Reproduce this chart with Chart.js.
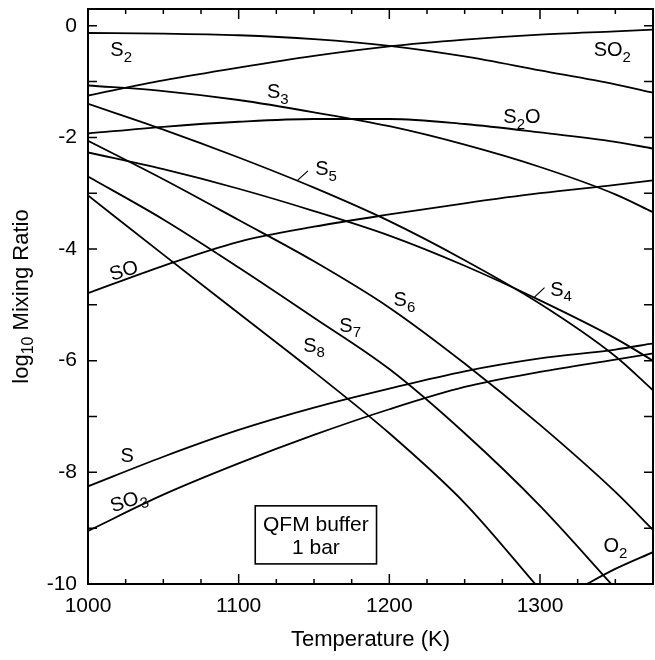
<!DOCTYPE html>
<html>
<head>
<meta charset="utf-8">
<script src="https://cdn.jsdelivr.net/npm/chart.js@4.4.0/dist/chart.umd.min.js"></script>
<style>
  html, body { margin: 0; padding: 0; background: #fff; }
  canvas { display: block; }
</style>
</head>
<body>
<canvas id="chart" width="655" height="660"></canvas>
<script>
'use strict';

// temperature grid (K) shared by most species
const temps = [1000, 1050, 1100, 1150, 1200, 1250, 1300, 1350, 1375];

// log10 mixing ratio
const S2   = [-0.13, -0.14, -0.17, -0.24, -0.36, -0.55, -0.80, -1.05, -1.20];
const SO2  = [-1.25, -0.98, -0.75, -0.54, -0.37, -0.25, -0.16, -0.10, -0.07];
const S3   = [-1.07, -1.17, -1.33, -1.55, -1.80, -2.13, -2.53, -3.02, -3.34];
const S2O  = [-1.93, -1.81, -1.72, -1.67, -1.67, -1.76, -1.91, -2.08, -2.20];
const S4   = [-2.27, -2.57, -2.92, -3.32, -3.76, -4.30, -4.92, -5.60, -6.00];
const S5   = [-1.40, -1.86, -2.36, -2.90, -3.50, -4.20, -4.98, -5.92, -6.53];
const S6   = [-2.06, -2.75, -3.48, -4.22, -5.05, -6.05, -7.15, -8.35, -9.03];
const SO   = [-4.79, -4.30, -3.87, -3.60, -3.38, -3.18, -3.00, -2.85, -2.77];
const S    = [-8.25, -7.72, -7.24, -6.84, -6.50, -6.19, -5.96, -5.80, -5.69];
const SO3  = [-9.05, -8.40, -7.84, -7.33, -6.87, -6.47, -6.20, -5.98, -5.87];

// species that leave the plot early
const tempsS7 = [1000, 1050, 1100, 1150, 1200, 1250, 1300, 1350];
const S7      = [-2.70, -3.47, -4.33, -5.23, -6.15, -7.30, -8.60, -10.08];
const tempsS8 = [1000, 1050, 1100, 1150, 1200, 1250, 1300];
const S8      = [-3.04, -4.10, -5.15, -6.20, -7.30, -8.55, -10.10];
const tempsO2 = [1325, 1350, 1375];
const O2      = [-10.09, -9.73, -9.43];

// axis setup
const xTicks = [1000, 1100, 1200, 1300];
const yTicks = [-10, -8, -6, -4, -2, 0];

// curve labels: [T, log value, main text, subscript, tail, rotation deg]
const curveLabels = [
  [1022, -0.45, 'S', '2', '', 0],
  [1348, -0.45, 'SO', '2', '', 0],
  [1126, -1.20, 'S', '3', '', 0],
  [1288, -1.65, 'S', '2', 'O', 0],
  [1158, -2.58, 'S', '5', '', 0],
  [1314, -4.74, 'S', '4', '', 0],
  [1210, -4.92, 'S', '6', '', 0],
  [1174, -5.38, 'S', '7', '', 0],
  [1150, -5.74, 'S', '8', '', 0],
  [1024, -4.40, 'SO', '', '', -18],
  [1026, -7.72, 'S', '', '', 0],
  [1027, -8.52, 'SO', '3', '', -18],
  [1350, -9.33, 'O', '2', '', 0]
];
// short leader ticks from label to curve: [T0, y0, T1, y1]
const leaders = [
  [1139, -2.77, 1146, -2.60],
  [1296, -4.87, 1303, -4.69]
];

const FONT = '"Liberation Sans", Arial, Helvetica, sans-serif';

function pts(xs, ys) { return xs.map((x, i) => ({ x, y: ys[i] })); }

const series = [
  ['S2', temps, S2], ['SO2', temps, SO2], ['S3', temps, S3], ['S2O', temps, S2O],
  ['S4', temps, S4], ['S5', temps, S5], ['S6', temps, S6], ['S7', tempsS7, S7],
  ['S8', tempsS8, S8], ['SO', temps, SO], ['S', temps, S], ['SO3', temps, SO3],
  ['O2', tempsO2, O2]
];

function drawSubText(ctx, x, y, main, sub, tail, size, subSize) {
  ctx.font = size + 'px ' + FONT;
  const w1 = ctx.measureText(main).width;
  const w3 = tail ? ctx.measureText(tail).width : 0;
  ctx.font = subSize + 'px ' + FONT;
  const w2 = sub ? ctx.measureText(sub).width : 0;
  let cx = x - (w1 + w2 + w3) / 2;
  ctx.textAlign = 'left';
  ctx.textBaseline = 'middle';
  ctx.font = size + 'px ' + FONT;
  ctx.fillText(main, cx, y);
  cx += w1;
  if (sub) {
    ctx.font = subSize + 'px ' + FONT;
    ctx.fillText(sub, cx, y + 7);
    cx += w2;
  }
  if (tail) {
    ctx.font = size + 'px ' + FONT;
    ctx.fillText(tail, cx, y);
  }
}

const framePlugin = {
  id: 'frame',
  afterDatasetsDraw(chart) {
    const { ctx, chartArea: a, scales: { x, y } } = chart;
    ctx.save();
    ctx.strokeStyle = '#000';
    ctx.fillStyle = '#000';
    ctx.lineWidth = 2;
    ctx.strokeRect(a.left, a.top, a.right - a.left, a.bottom - a.top);

    // inward ticks on all four sides
    ctx.lineWidth = 1.5;
    ctx.beginPath();
    for (let t = 1000; t <= 1375; t += 25) {
      const px = x.getPixelForValue(t);
      const len = t % 100 === 0 ? 10 : 5;
      ctx.moveTo(px, a.bottom); ctx.lineTo(px, a.bottom - len);
      ctx.moveTo(px, a.top); ctx.lineTo(px, a.top + len);
    }
    for (let v = -10; v <= 0; v += 1) {
      const py = y.getPixelForValue(v);
      ctx.moveTo(a.left, py); ctx.lineTo(a.left + 9, py);
      ctx.moveTo(a.right, py); ctx.lineTo(a.right - 9, py);
    }
    ctx.stroke();

    // leaders
    ctx.lineWidth = 1.2;
    ctx.beginPath();
    leaders.forEach(([t0, v0, t1, v1]) => {
      ctx.moveTo(x.getPixelForValue(t0), y.getPixelForValue(v0));
      ctx.lineTo(x.getPixelForValue(t1), y.getPixelForValue(v1));
    });
    ctx.stroke();

    // curve labels
    curveLabels.forEach(([t, v, main, sub, tail, rot]) => {
      const px = x.getPixelForValue(t), py = y.getPixelForValue(v);
      ctx.save();
      ctx.translate(px, py);
      ctx.rotate(rot * Math.PI / 180);
      drawSubText(ctx, 0, 0, main, sub, tail, 20, 15);
      ctx.restore();
    });

    // condition box
    const bx0 = x.getPixelForValue(1111), bx1 = x.getPixelForValue(1191.5);
    const by0 = y.getPixelForValue(-8.6), by1 = y.getPixelForValue(-9.64);
    ctx.lineWidth = 1.6;
    ctx.fillStyle = '#fff';
    ctx.fillRect(bx0, by0, bx1 - bx0, by1 - by0);
    ctx.strokeRect(bx0, by0, bx1 - bx0, by1 - by0);
    ctx.fillStyle = '#000';
    ctx.font = '21px ' + FONT;
    ctx.textAlign = 'center';
    ctx.textBaseline = 'middle';
    const bc = (bx0 + bx1) / 2;
    ctx.fillText('QFM buffer', bc, by0 + (by1 - by0) * 0.34);
    ctx.fillText('1 bar', bc, by0 + (by1 - by0) * 0.73);

    // axis titles
    ctx.font = '22px ' + FONT;
    ctx.fillText('Temperature (K)', (a.left + a.right) / 2, 640);
    ctx.save();
    ctx.translate(22, (a.top + a.bottom) / 2);
    ctx.rotate(-Math.PI / 2);
    const parts = [['log', 22, 0], ['10', 16, 7], [' Mixing Ratio', 22, 0]];
    let total = 0;
    parts.forEach(([s, sz]) => { ctx.font = sz + 'px ' + FONT; total += ctx.measureText(s).width; });
    let cx = -total / 2;
    ctx.textAlign = 'left';
    parts.forEach(([s, sz, dy]) => {
      ctx.font = sz + 'px ' + FONT;
      ctx.fillText(s, cx, dy);
      cx += ctx.measureText(s).width;
    });
    ctx.restore();
    ctx.restore();
  }
};

new Chart(document.getElementById('chart'), {
  type: 'line',
  data: {
    datasets: series.map(([label, xs, ys]) => ({
      label,
      data: pts(xs, ys),
      borderColor: '#000',
      borderWidth: 1.8,
      pointRadius: 0,
      fill: false,
      cubicInterpolationMode: 'monotone'
    }))
  },
  options: {
    responsive: false,
    devicePixelRatio: 1,
    animation: false,
    layout: { padding: { top: 9, right: 2, left: 0, bottom: 0 } },
    scales: {
      x: {
        type: 'linear',
        min: 1000,
        max: 1375,
        afterBuildTicks: s => { s.ticks = xTicks.map(value => ({ value })); },
        afterFit: s => { s.height = 76; s.paddingLeft = 0; s.paddingRight = 0; },
        grid: { display: false, drawTicks: false },
        border: { display: false },
        ticks: {
          padding: 10, maxRotation: 0, color: '#000',
          font: { family: FONT, size: 21 },
          callback: v => String(v)
        }
      },
      y: {
        type: 'linear',
        min: -10,
        max: 0.3,
        afterBuildTicks: s => { s.ticks = yTicks.map(value => ({ value })); },
        afterFit: s => { s.width = 88; s.paddingTop = 0; s.paddingBottom = 0; },
        grid: { display: false, drawTicks: false },
        border: { display: false },
        ticks: {
          padding: 11, color: '#000',
          font: { family: FONT, size: 21 },
          callback: v => String(v)
        }
      }
    },
    plugins: { legend: { display: false }, tooltip: { enabled: false } }
  },
  plugins: [framePlugin]
});
</script>
</body>
</html>
